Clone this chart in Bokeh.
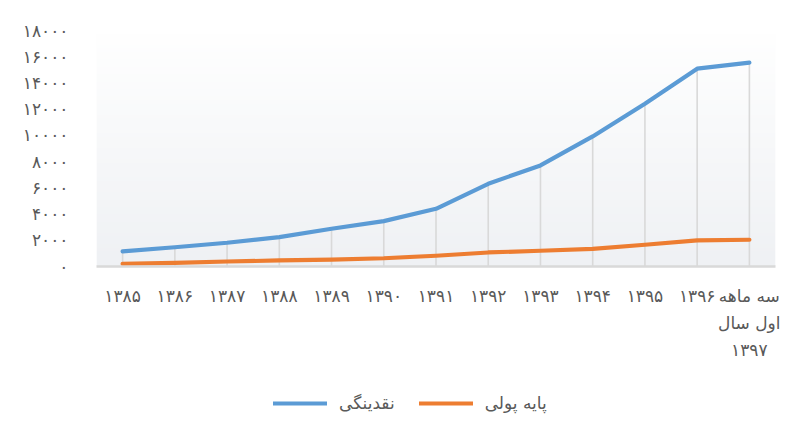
import numpy as np
from bokeh.plotting import figure
from bokeh.layouts import column
from bokeh.models import Range1d, FixedTicker, Legend, LegendItem, ColumnDataSource
from bokeh.embed import file_html
from bokeh.resources import INLINE

# ---- data ----
categories = ["۱۳۸۵", "۱۳۸۶", "۱۳۸۷", "۱۳۸۸", "۱۳۸۹", "۱۳۹۰", "۱۳۹۱",
              "۱۳۹۲", "۱۳۹۳", "۱۳۹۴", "۱۳۹۵", "۱۳۹۶", "سه ماهه\nاول سال\n۱۳۹۷"]
liquidity = [1150, 1470, 1810, 2240, 2880, 3460, 4400, 6310, 7710, 9920, 12420, 15090, 15550]
monetary_base = [200, 280, 380, 460, 530, 630, 820, 1070, 1200, 1350, 1660, 1990, 2040]
series_names = ["نقدینگی", "پایه پولی"]
y_ticks = [0, 2000, 4000, 6000, 8000, 10000, 12000, 14000, 16000, 18000]
y_tick_labels = ["۰", "۲۰۰۰", "۴۰۰۰", "۶۰۰۰", "۸۰۰۰", "۱۰۰۰۰", "۱۲۰۰۰", "۱۴۰۰۰", "۱۶۰۰۰", "۱۸۰۰۰"]

# ---- style ----
BLUE = "#5b9bd5"
ORANGE = "#ed7d31"
TEXT = "#595959"
GRID = "#d9d9d9"
FONT = "DejaVu Sans"
colors = [BLUE, ORANGE]

xs = list(range(len(categories)))
src = ColumnDataSource(dict(x=xs, liq=liquidity, mb=monetary_base, zero=[0] * len(xs)))

x0, x1 = -0.5, len(categories) - 0.5
y0, y1 = 0, 18000

p = figure(width=780, height=375, output_backend="svg", toolbar_location=None,
           x_range=Range1d(x0, x1), y_range=Range1d(y0, y1),
           min_border_left=96, min_border_right=5, min_border_top=30, min_border_bottom=109)
p.outline_line_color = None
p.background_fill_color = "white"
p.border_fill_color = "white"
p.grid.visible = False

# plot-area vertical gradient (white -> light gray)
n = 64
t = np.linspace(0, 1, n)[:, None]
top_c = np.array([255, 255, 255])
bot_c = np.array([239, 241, 244])
cols = (bot_c * (1 - t) + top_c * t).astype(np.uint32)
img = np.empty((n, 1), dtype=np.uint32)
view = img.view(dtype=np.uint8).reshape((n, 1, 4))
view[:, :, 0] = cols[:, 0:1]
view[:, :, 1] = cols[:, 1:2]
view[:, :, 2] = cols[:, 2:3]
view[:, :, 3] = 255
p.image_rgba(image=[img], x=x0, y=y0, dw=x1 - x0, dh=y1 - y0)

# drop lines
p.segment(x0="x", y0="zero", x1="x", y1="liq", source=src, line_color=GRID, line_width=1.6)

p.line("x", "liq", source=src, line_color=BLUE, line_width=4.2, line_join="round", line_cap="round")
p.line("x", "mb", source=src, line_color=ORANGE, line_width=4.2, line_join="round", line_cap="round")

# x axis
xa = p.xaxis[0]
xa.ticker = FixedTicker(ticks=xs)
xa.major_label_overrides = {i: c for i, c in zip(xs, categories)}
xa.axis_line_color = GRID
xa.axis_line_width = 2.5
xa.major_tick_line_color = None
xa.minor_tick_line_color = None
xa.major_label_text_font = FONT
xa.major_label_text_font_size = "17px"
xa.major_label_text_color = TEXT
xa.major_label_text_line_height = 1.35
xa.major_label_standoff = 13

# y axis
ya = p.yaxis[0]
ya.ticker = FixedTicker(ticks=y_ticks)
ya.major_label_overrides = {v: s for v, s in zip(y_ticks, y_tick_labels)}
ya.axis_line_color = None
ya.major_tick_line_color = None
ya.minor_tick_line_color = None
ya.major_label_text_font = FONT
ya.major_label_text_font_size = "17px"
ya.major_label_text_color = TEXT
ya.major_label_standoff = 22

# ---- legend strip below the chart (series drawn off-range, only legend shows) ----
pl = figure(width=780, height=60, output_backend="svg", toolbar_location=None,
            x_range=Range1d(0, 1), y_range=Range1d(-2, -1),
            x_axis_location=None, y_axis_location=None,
            min_border_left=0, min_border_right=0, min_border_top=0, min_border_bottom=0)
pl.outline_line_color = None
pl.grid.visible = False
pl.background_fill_color = "white"
pl.border_fill_color = "white"
items = []
for name, col_name, c in zip(series_names, ["liq", "mb"], colors):
    r = pl.line("x", col_name, source=src, line_color=c, line_width=4.2, line_cap="round")
    items.append(LegendItem(label=name, renderers=[r]))
legend = Legend(items=items, orientation="horizontal", location=(177, 22),
                glyph_width=54, glyph_height=20, label_standoff=12, spacing=24,
                padding=0, margin=0, border_line_color=None, background_fill_alpha=0,
                label_text_font=FONT, label_text_font_size="17px", label_text_color=TEXT)
pl.add_layout(legend, "center")

layout = column(p, pl, spacing=0)
open("out.html", "w").write(file_html(layout, INLINE))
